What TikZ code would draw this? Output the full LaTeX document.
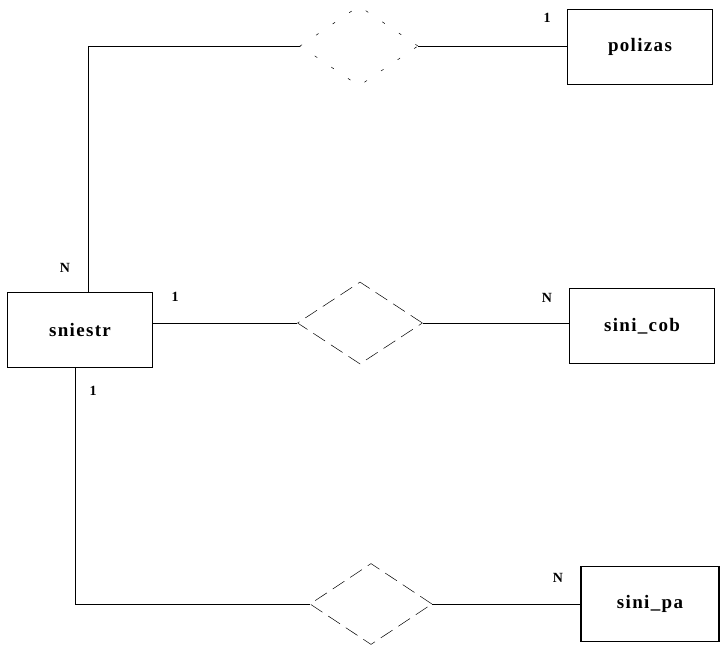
\documentclass[tikz,border=0pt]{standalone}
\usepackage{fontspec}
\setmainfont{Liberation Serif}
\usepackage{tikz}
\usetikzlibrary{shapes.geometric, positioning}

\begin{document}
\begin{tikzpicture}[
  x=1pt, y=-1pt,
  every node/.style={font=\bfseries},
  %% entity / relation styles
  ent/.style={draw, line width=1.5pt, rectangle,
    minimum width=145pt, minimum height=75pt, inner sep=0pt,
    font=\fontsize{19}{22}\selectfont\bfseries\addfontfeature{LetterSpace=7}},
  rel/.style={draw, diamond, inner sep=0pt, aspect=1.5,
    minimum width=122pt, minimum height=81pt, line width=0.5pt,
    dash pattern=on 14pt off 7pt},
  faint/.style={dash pattern=on 3pt off 17pt},
  card/.style={inner sep=0pt, font=\fontsize{14}{16}\selectfont\bfseries},
  link/.style={line width=0.8pt},
]
\useasboundingbox (0,0) rectangle (720,648);

%% =========================================================
%% Entities
%% =========================================================
\node[ent] (siniestr) at (80,330)  {sniestr};
\node[ent] (polizas)  at (640,47)  {polizas};
\node[ent] (sinicob)  at (642,326) {sini\_cob};
\node[ent, minimum width=138pt] (sinipa) at (650,604) {sini\_pa};

%% =========================================================
%% Relations
%% =========================================================
\node[rel, faint, minimum width=118pt, minimum height=80pt] (relpol) at (359,46) {};
\node[rel, minimum width=125pt, minimum height=82pt] (relcob) at (360,323) {};
\node[rel] (relpa) at (371,604) {};

%% Links
\draw[link] ([xshift=8pt]siniestr.north) |- (relpol.west);
\draw[link] (relpol.east) -- (relpol.east -| polizas.west);
\draw[link] (siniestr.east |- relcob.west) -- (relcob.west);
\draw[link] (relcob.east) -- (relcob.east -| sinicob.west);
\draw[link] ([xshift=-5pt]siniestr.south) |- (relpa.west);
\draw[link] (relpa.east) -- (relpa.east -| sinipa.west);

%% Cardinalities
\node[card] (nTop)  at (65,268)  {N};
\node[card] (oneR)  at (175,297) {1};
\node[card] (oneB)  at (93,391)  {1};
\node[card] (onePo) at (547,18)  {1};
\node[card] (nCob)  at (547,298) {N};
\node[card] (nPa)   at (558,578) {N};

\end{tikzpicture}
\end{document}
